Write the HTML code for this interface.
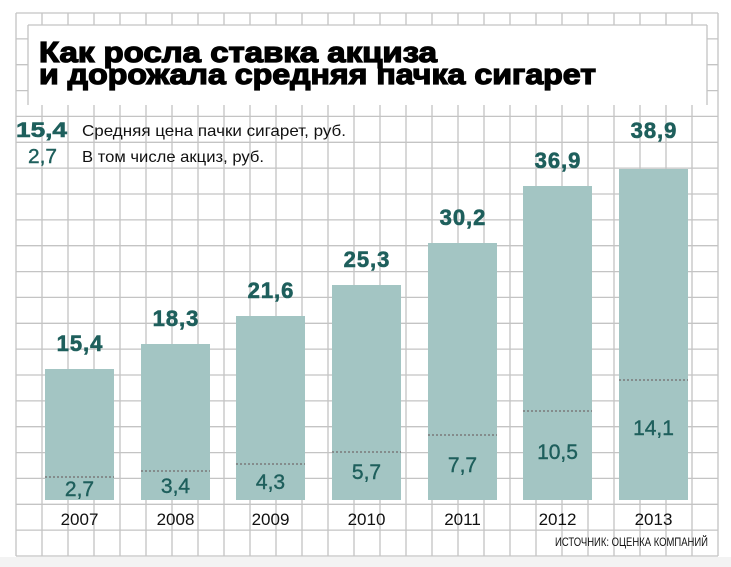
<!DOCTYPE html>
<html><head><meta charset="utf-8"><style>
html,body{margin:0;padding:0;background:#fff;}
svg{display:block;}
text{font-family:"Liberation Sans",sans-serif;}
</style></head><body>
<svg width="731" height="567" viewBox="0 0 731 567" xmlns="http://www.w3.org/2000/svg">
<rect x="0" y="0" width="731" height="567" fill="#fff"/>
<rect x="0" y="557" width="731" height="10" fill="#f3f3f3"/>
<g stroke="#c4c4c4" stroke-width="1.3">
<line x1="16" y1="13" x2="16" y2="556"/><line x1="42" y1="13" x2="42" y2="556"/><line x1="68" y1="13" x2="68" y2="556"/><line x1="94" y1="13" x2="94" y2="556"/><line x1="120" y1="13" x2="120" y2="556"/><line x1="146" y1="13" x2="146" y2="556"/><line x1="172" y1="13" x2="172" y2="556"/><line x1="198" y1="13" x2="198" y2="556"/><line x1="224" y1="13" x2="224" y2="556"/><line x1="250" y1="13" x2="250" y2="556"/><line x1="276" y1="13" x2="276" y2="556"/><line x1="302" y1="13" x2="302" y2="556"/><line x1="328" y1="13" x2="328" y2="556"/><line x1="354" y1="13" x2="354" y2="556"/><line x1="380" y1="13" x2="380" y2="556"/><line x1="406" y1="13" x2="406" y2="556"/><line x1="432" y1="13" x2="432" y2="556"/><line x1="458" y1="13" x2="458" y2="556"/><line x1="484" y1="13" x2="484" y2="556"/><line x1="510" y1="13" x2="510" y2="556"/><line x1="536" y1="13" x2="536" y2="556"/><line x1="562" y1="13" x2="562" y2="556"/><line x1="588" y1="13" x2="588" y2="556"/><line x1="614" y1="13" x2="614" y2="556"/><line x1="640" y1="13" x2="640" y2="556"/><line x1="666" y1="13" x2="666" y2="556"/><line x1="692" y1="13" x2="692" y2="556"/><line x1="718" y1="13" x2="718" y2="556"/>
<line x1="16" y1="13" x2="718" y2="13"/><line x1="16" y1="38.9" x2="718" y2="38.9"/><line x1="16" y1="64.7" x2="718" y2="64.7"/><line x1="16" y1="90.6" x2="718" y2="90.6"/><line x1="16" y1="116.4" x2="718" y2="116.4"/><line x1="16" y1="142.3" x2="718" y2="142.3"/><line x1="16" y1="168.1" x2="718" y2="168.1"/><line x1="16" y1="194" x2="718" y2="194"/><line x1="16" y1="219.9" x2="718" y2="219.9"/><line x1="16" y1="245.7" x2="718" y2="245.7"/><line x1="16" y1="271.6" x2="718" y2="271.6"/><line x1="16" y1="297.4" x2="718" y2="297.4"/><line x1="16" y1="323.3" x2="718" y2="323.3"/><line x1="16" y1="349.1" x2="718" y2="349.1"/><line x1="16" y1="375" x2="718" y2="375"/><line x1="16" y1="400.9" x2="718" y2="400.9"/><line x1="16" y1="426.7" x2="718" y2="426.7"/><line x1="16" y1="452.6" x2="718" y2="452.6"/><line x1="16" y1="478.4" x2="718" y2="478.4"/><line x1="16" y1="504.3" x2="718" y2="504.3"/><line x1="16" y1="530.1" x2="718" y2="530.1"/><line x1="16" y1="556" x2="718" y2="556"/>
</g>
<rect x="28" y="25" width="679" height="80" fill="#fff"/>
<line x1="28" y1="25" x2="707" y2="25" stroke="#c4c4c4" stroke-width="1.3"/>
<line x1="707" y1="25" x2="707" y2="105" stroke="#c4c4c4" stroke-width="1.3"/>
<line x1="28" y1="25" x2="28" y2="105" stroke="#c4c4c4" stroke-width="1.3"/>
<g font-weight="bold" fill="#000" stroke="#000" stroke-width="1.3">
<text x="39" y="62" font-size="29" textLength="398" lengthAdjust="spacingAndGlyphs">Как росла ставка акциза</text>
<text x="39" y="84" font-size="29" textLength="557" lengthAdjust="spacingAndGlyphs">и дорожала средняя пачка сигарет</text>
</g>

<text x="16" y="137" font-size="21" font-weight="bold" fill="#1e5f5c" stroke="#1e5f5c" stroke-width="0.6" textLength="51" lengthAdjust="spacingAndGlyphs">15,4</text>
<text x="82" y="136" font-size="16" fill="#111" textLength="264" lengthAdjust="spacingAndGlyphs">Средняя цена пачки сигарет, руб.</text>
<text x="28" y="163" font-size="20" fill="#1e5f5c" stroke="#1e5f5c" stroke-width="0.4" textLength="29" lengthAdjust="spacingAndGlyphs">2,7</text>
<text x="82" y="162" font-size="16" fill="#111" textLength="182" lengthAdjust="spacingAndGlyphs">В том числе акциз, руб.</text>

<g fill="#a3c5c3">
<rect x="45" y="369" width="69" height="131"/>
<rect x="141" y="344" width="69" height="156"/>
<rect x="236" y="316" width="69" height="184"/>
<rect x="332" y="285" width="69" height="215"/>
<rect x="428" y="243" width="69" height="257"/>
<rect x="523" y="186" width="69" height="314"/>
<rect x="619" y="169" width="69" height="331"/>
</g>
<g stroke="#7a7a7a" stroke-width="1.5" stroke-dasharray="2,2">
<line x1="45" y1="477" x2="114" y2="477"/>
<line x1="141" y1="471" x2="210" y2="471"/>
<line x1="236" y1="464" x2="305" y2="464"/>
<line x1="332" y1="452" x2="401" y2="452"/>
<line x1="428" y1="435" x2="497" y2="435"/>
<line x1="523" y1="411" x2="592" y2="411"/>
<line x1="619" y1="380" x2="688" y2="380"/>
</g>
<g font-size="22" font-weight="bold" fill="#1e5f5c" stroke="#1e5f5c" stroke-width="0.6" text-anchor="middle" letter-spacing="1">
<text x="80" y="351">15,4</text>
<text x="176" y="326">18,3</text>
<text x="271" y="298">21,6</text>
<text x="367" y="267">25,3</text>
<text x="463" y="225">30,2</text>
<text x="558" y="168">36,9</text>
<text x="654" y="138">38,9</text>
</g>
<g font-size="21" fill="#1e5f5c" stroke="#1e5f5c" stroke-width="0.4" text-anchor="middle">
<text x="79.5" y="496">2,7</text>
<text x="175.5" y="493">3,4</text>
<text x="270.5" y="489">4,3</text>
<text x="366.5" y="479">5,7</text>
<text x="462.5" y="472">7,7</text>
<text x="557.5" y="459">10,5</text>
<text x="653.5" y="435">14,1</text>
</g>
<g font-size="17" fill="#111" text-anchor="middle">
<text x="79.5" y="525">2007</text>
<text x="175.5" y="525">2008</text>
<text x="270.5" y="525">2009</text>
<text x="366.5" y="525">2010</text>
<text x="462.5" y="525">2011</text>
<text x="557.5" y="525">2012</text>
<text x="653.5" y="525">2013</text>
</g>
<text x="555" y="546" font-size="12" fill="#111" textLength="153" lengthAdjust="spacingAndGlyphs">ИСТОЧНИК: ОЦЕНКА КОМПАНИЙ</text>
</svg>
</body></html>
